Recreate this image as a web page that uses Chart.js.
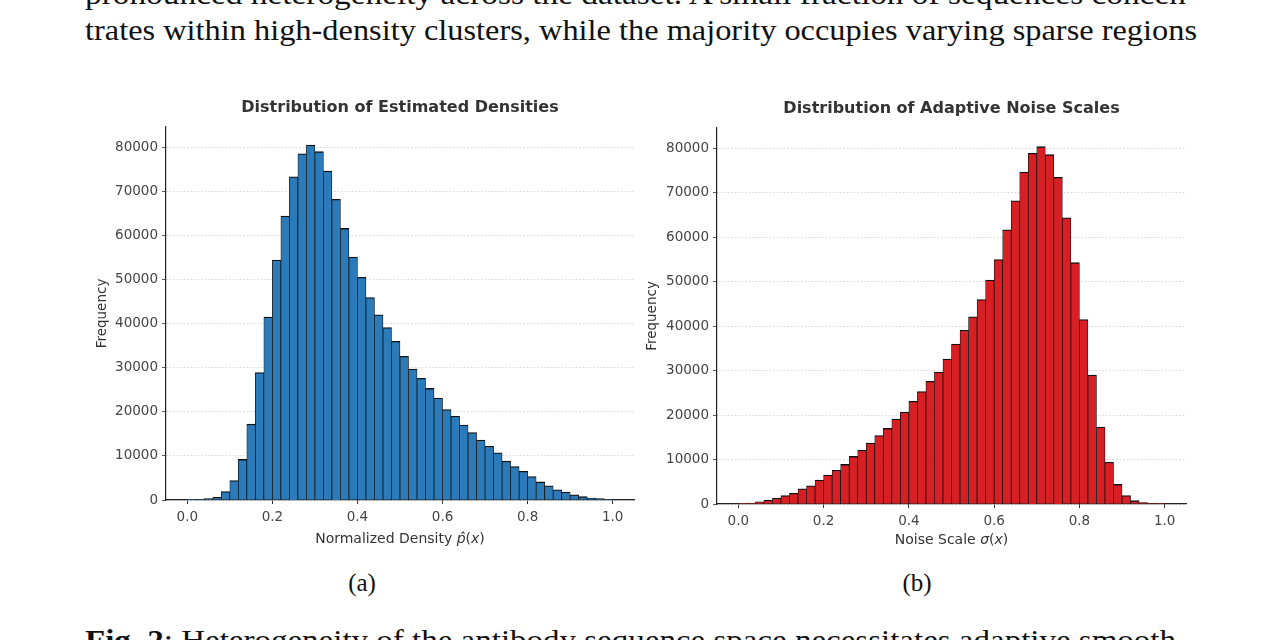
<!DOCTYPE html>
<html>
<head>
<meta charset="utf-8">
<script src="https://cdn.jsdelivr.net/npm/chart.js@4.4.0/dist/chart.umd.min.js"></script>
<style>
  body { margin: 0; width: 1280px; height: 640px; overflow: hidden; background: #fff; position: relative; font-family: 'DejaVu Sans', sans-serif; }
  canvas { position: absolute; }
  .tx { position: absolute; left: 85px; white-space: nowrap; font-family: 'Liberation Serif', serif; font-size: 29px; line-height: 1; color: #111; transform-origin: 0 0; }
  .sub { position: absolute; width: 80px; text-align: center; font-family: 'Liberation Serif', serif; font-size: 25px; line-height: 1; color: #111; }
  .xt { position: absolute; text-align: center; font-size: 14px; line-height: 1; color: #333; }
</style>
</head>
<body>
<div class="tx" id="line1" data-w="1112" style="top:-20px">pronounced heterogeneity across the dataset. A small fraction of sequences concen-</div>
<div class="tx" id="line2" data-w="1112" style="top:16px">trates within high-density clusters, while the majority occupies varying sparse regions</div>

<canvas id="chart-a" width="570" height="450" style="left:80px;top:90px"></canvas>
<canvas id="chart-b" width="570" height="453" style="left:630px;top:91px"></canvas>

<div class="xt" style="left:166px;width:468px;top:531px">Normalized Density <i>p̂</i>(<i>x</i>)</div>
<div class="xt" style="left:717px;width:469px;top:532px">Noise Scale <i>σ</i>(<i>x</i>)</div>

<div class="sub" style="left:322px;top:570px">(a)</div>
<div class="sub" style="left:877px;top:570px">(b)</div>

<div class="tx" id="cap" data-w="1102" style="top:626px"><b>Fig. 2</b>: Heterogeneity of the antibody sequence space necessitates adaptive smooth-</div>

<script>
// histogram bins (width 0.02, centres)
const binCenters = [
  0.01, 0.03, 0.05, 0.07, 0.09, 0.11, 0.13, 0.15, 0.17, 0.19,
  0.21, 0.23, 0.25, 0.27, 0.29, 0.31, 0.33, 0.35, 0.37, 0.39,
  0.41, 0.43, 0.45, 0.47, 0.49, 0.51, 0.53, 0.55, 0.57, 0.59,
  0.61, 0.63, 0.65, 0.67, 0.69, 0.71, 0.73, 0.75, 0.77, 0.79,
  0.81, 0.83, 0.85, 0.87, 0.89, 0.91, 0.93, 0.95, 0.97, 0.99
];

// (a) estimated densities
const densityCounts = [
  50, 150, 300, 600, 1900, 4400, 9200, 17200, 28900, 41500,
  54400, 64400, 73300, 78500, 80500, 79000, 74600, 68200, 61600, 55100,
  50500, 45900, 42000, 39100, 36000, 32600, 29700, 27600, 25300, 23100,
  20500, 19000, 17000, 15300, 13600, 12200, 10700, 8800, 7600, 6500,
  5300, 4100, 3200, 2300, 1800, 1200, 750, 450, 300, 150
];

// (b) adaptive noise scales
const noiseCounts = [
  75, 200, 500, 900, 1350, 1900, 2400, 3400, 4100, 5400,
  6500, 7600, 8900, 10700, 12100, 13700, 15400, 17000, 19100, 20700,
  23100, 25300, 27600, 29700, 32600, 36000, 39100, 42100, 46000, 50400,
  55000, 61700, 68200, 74700, 78900, 80400, 78600, 73500, 64400, 54300,
  41500, 29000, 17300, 9400, 4400, 1900, 750, 300, 150, 75
];

const xTicks = [0, 0.2, 0.4, 0.6, 0.8, 1.0];
const yTicks = [0, 10000, 20000, 30000, 40000, 50000, 60000, 70000, 80000];

Chart.defaults.font.family = "'DejaVu Sans', sans-serif";
Chart.defaults.animation = false;

// title centred over the plot area (matplotlib style), not over the whole canvas
const axesTitle = {
  id: 'axesTitle',
  afterDraw(chart, args, opts) {
    const { ctx, chartArea } = chart;
    ctx.save();
    ctx.font = "bold 16px 'DejaVu Sans', sans-serif";
    ctx.fillStyle = '#333';
    ctx.textAlign = 'center';
    ctx.textBaseline = 'middle';
    ctx.fillText(opts.text, (chartArea.left + chartArea.right) / 2, opts.y);
    ctx.restore();
  }
};

function histChart(id, title, counts, color, yWidth, padRight) {
  return new Chart(document.getElementById(id), {
    type: 'bar',
    data: {
      datasets: [{
        data: binCenters.map((x, i) => ({ x, y: counts[i] })),
        backgroundColor: color,
        borderColor: '#111',
        borderWidth: { top: 1.3, left: 0.75, right: 0.75, bottom: 0 },
        borderSkipped: false,
        barPercentage: 1,
        categoryPercentage: 1
      }]
    },
    plugins: [axesTitle],
    options: {
      responsive: false,
      layout: { padding: { left: 10, right: padRight, top: 37, bottom: 0 } },
      plugins: {
        legend: { display: false },
        tooltip: { enabled: false },
        title: { display: false },
        axesTitle: { text: title, y: 17.5 }
      },
      scales: {
        x: {
          type: 'linear', min: -0.05, max: 1.05, offset: false,
          afterFit: s => { s.height = 40; },
          afterBuildTicks: s => { s.ticks = xTicks.map(v => ({ value: v })); },
          grid: { offset: false, drawOnChartArea: false, drawTicks: true, tickLength: 4, tickColor: '#333' },
          border: { color: '#222', width: 1.2 },
          ticks: { color: '#444', font: { size: 13.5 }, padding: 5, maxRotation: 0, autoSkip: false,
                   callback: v => v.toFixed(1) }
        },
        y: {
          min: 0, max: 84600,
          afterFit: s => { s.width = yWidth; },
          afterBuildTicks: s => { s.ticks = yTicks.map(v => ({ value: v })); },
          grid: { color: '#c8c8c8', lineWidth: 0.8, tickLength: 4, tickColor: '#333', tickBorderDash: [] },
          border: { color: '#222', width: 1.2, dash: [1.5, 2] },
          title: { display: true, text: 'Frequency', color: '#333', font: { size: 13.5 }, padding: { top: 4, bottom: 4 } },
          ticks: { color: '#444', font: { size: 13.5 }, padding: 4, callback: v => String(v) }
        }
      }
    }
  });
}

histChart('chart-a', 'Distribution of Estimated Densities', densityCounts, '#2b7bba', 76, 16);
histChart('chart-b', 'Distribution of Adaptive Noise Scales', noiseCounts, '#d71f24', 77, 14);

// stretch justified text lines to their measured widths
document.querySelectorAll('.tx').forEach(el => {
  const w = el.getBoundingClientRect().width;
  el.style.transform = `scaleX(${(+el.dataset.w / w).toFixed(4)})`;
});
</script>
</body>
</html>
